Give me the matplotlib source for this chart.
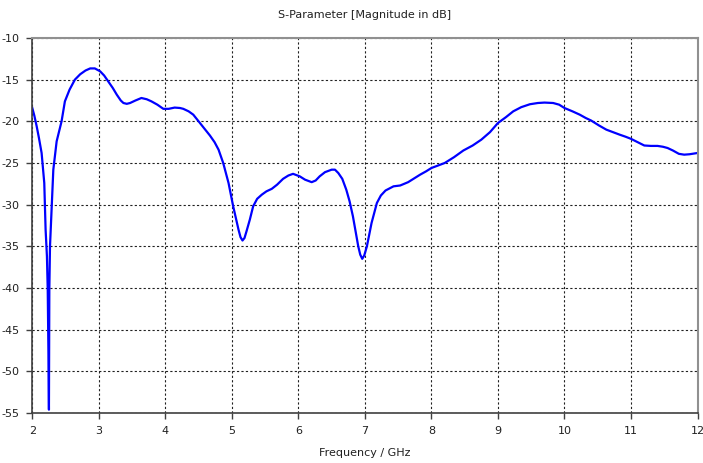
import matplotlib
matplotlib.use("Agg")
import matplotlib.pyplot as plt

# S11 magnitude trace (GHz, dB)
freq_ghz = [2.00, 2.03, 2.066, 2.10, 2.14, 2.18, 2.20, 2.22, 2.232, 2.242, 2.25, 2.256, 2.266,
            2.29, 2.316, 2.366, 2.44, 2.49, 2.56, 2.64, 2.72, 2.80, 2.87, 2.94, 3.02,
            3.08, 3.14, 3.21, 3.27, 3.33, 3.37, 3.42, 3.47, 3.55, 3.64, 3.72, 3.79,
            3.88, 3.97, 4.05, 4.14, 4.22, 4.27, 4.35, 4.42, 4.52, 4.60, 4.67, 4.74,
            4.80, 4.87, 4.95, 5.02, 5.10, 5.13, 5.16, 5.19, 5.22, 5.27, 5.32, 5.38,
            5.45, 5.52, 5.60, 5.68, 5.77, 5.85, 5.92, 6.02, 6.10, 6.20, 6.26, 6.32,
            6.40, 6.50, 6.55, 6.60, 6.66, 6.72, 6.77, 6.82, 6.86, 6.90, 6.93, 6.96,
            6.99, 7.03, 7.10, 7.18, 7.24, 7.31, 7.43, 7.53, 7.65, 7.75, 7.83,
            7.92, 8.00, 8.10, 8.20, 8.34, 8.48, 8.62, 8.75, 8.88, 9.00, 9.12, 9.23,
            9.35, 9.48, 9.60, 9.70, 9.83, 9.92, 10.00, 10.12, 10.23, 10.32, 10.40,
            10.52, 10.63, 10.73, 10.83, 10.92, 11.00, 11.10, 11.20, 11.30, 11.40,
            11.48, 11.55, 11.63, 11.72, 11.80, 11.88, 12.00]
s11_db = [-18.4, -19.3, -20.6, -22.0, -23.8, -27.4, -33.0, -36.2, -40.2, -47.4, -54.6, -40.2, -35.0,
          -30.6, -25.8, -22.4, -20.0, -17.6, -16.2, -15.0, -14.35, -13.9, -13.65, -13.65, -14.0,
          -14.5, -15.2, -16.0, -16.8, -17.5, -17.8, -17.9, -17.8, -17.5, -17.2, -17.35, -17.6,
          -18.0, -18.5, -18.5, -18.35, -18.4, -18.5, -18.8, -19.2, -20.2, -21.0, -21.7, -22.5,
          -23.4, -25.0, -27.4, -30.2, -33.0, -33.9, -34.3, -34.0, -33.2, -31.8, -30.2, -29.3,
          -28.8, -28.4, -28.1, -27.6, -26.9, -26.5, -26.3, -26.6, -27.0, -27.3, -27.1, -26.6,
          -26.1, -25.8, -25.8, -26.2, -26.9, -28.2, -29.6, -31.4, -33.2, -35.0, -36.0, -36.5,
          -36.1, -35.0, -32.2, -29.8, -28.9, -28.3, -27.8, -27.7, -27.3, -26.8, -26.4,
          -26.0, -25.6, -25.3, -25.0, -24.3, -23.5, -22.9, -22.2, -21.3, -20.2, -19.5, -18.8,
          -18.3, -17.95, -17.8, -17.75, -17.8, -18.0, -18.4, -18.8, -19.2, -19.6, -19.9,
          -20.5, -21.0, -21.3, -21.6, -21.85, -22.1, -22.5, -22.9, -22.95, -22.95,
          -23.05, -23.2, -23.5, -23.9, -24.0, -23.95, -23.8]

x_ticks = [2, 3, 4, 5, 6, 7, 8, 9, 10, 11, 12]
y_ticks = [-55, -50, -45, -40, -35, -30, -25, -20, -15, -10]

plt.rcParams["font.family"] = ["DejaVu Sans"]

fig = plt.figure(figsize=(7.03, 4.63), dpi=100)
ax = fig.add_axes([32.3 / 703, 1 - 413 / 463, (697.5 - 32.3) / 703, (413 - 38) / 463])

ax.plot(freq_ghz, s11_db, color="#0000ff", lw=1.6, solid_joinstyle="round")

ax.set_xlim(2, 12)
ax.set_ylim(-55, -10)
ax.set_xticks(x_ticks)
ax.set_yticks(y_ticks)
ax.set_xticklabels([str(t) for t in x_ticks])
ax.set_yticklabels([str(t) for t in y_ticks])

ax.grid(True, color="#202020", linestyle=(0, (2, 2)), linewidth=0.8)
ax.set_axisbelow(True)

for side in ["left", "bottom"]:
    ax.spines[side].set_color("#404040")
    ax.spines[side].set_linewidth(1.2)
for side in ["top", "right"]:
    ax.spines[side].set_color("#909090")
    ax.spines[side].set_linewidth(1.5)

ax.tick_params(axis="both", direction="out", length=4, width=1, color="#404040",
               labelsize=8, labelcolor="#202020", pad=5)

fig.text(365 / 703, 1 - 15 / 463, "S-Parameter [Magnitude in dB]", ha="center", va="center",
         fontsize=8, color="#202020")
fig.text(365 / 703, 1 - 453 / 463, "Frequency / GHz", ha="center", va="center",
         fontsize=8, color="#202020")

fig.savefig("out.png", dpi=100)
